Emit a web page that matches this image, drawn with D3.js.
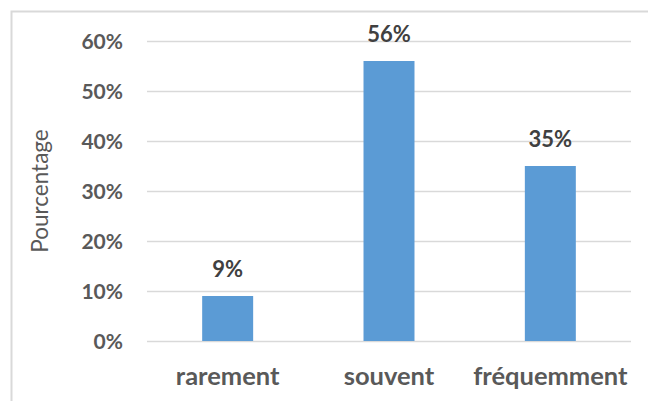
<!DOCTYPE html>
<html>
<head>
<meta charset="utf-8">
<script src="https://cdn.jsdelivr.net/npm/d3@7"></script>
<style>
  html, body { margin: 0; padding: 0; background: #fff; }
  svg { display: block; }
</style>
</head>
<body>
<svg id="chart" width="648" height="401"></svg>
<script>
// Fréquence déclarée, en pourcentage des réponses
const categories = ["rarement", "souvent", "fréquemment"];
const values = [0.09, 0.56, 0.35];
const valueLabels = ["9%", "56%", "35%"];
const yTicks = [0, 0.1, 0.2, 0.3, 0.4, 0.5, 0.6];
const yTickLabels = ["0%", "10%", "20%", "30%", "40%", "50%", "60%"];
const yTitle = "Pourcentage";

const svg = d3.select("#chart");
const plot = { left: 147, right: 631, top: 41, bottom: 341 };

// Chart frame (extends past the visible window on the right and bottom)
svg.append("rect")
  .attr("x", 11.5).attr("y", 11.5)
  .attr("width", 700).attr("height", 500)
  .attr("fill", "#fff")
  .attr("stroke", "#d9d9d9")
  .attr("stroke-width", 2);

const x = d3.scaleBand()
  .domain(categories)
  .range([plot.left, plot.right])
  .paddingInner(0.684)
  .paddingOuter(0.342);

const y = d3.scaleLinear()
  .domain([0, 0.6])
  .range([plot.bottom, plot.top]);

// Horizontal gridlines
svg.append("g")
  .selectAll("line")
  .data(yTicks)
  .join("line")
  .attr("x1", plot.left).attr("x2", plot.right)
  .attr("y1", d => Math.round(y(d)) + 0.5)
  .attr("y2", d => Math.round(y(d)) + 0.5)
  .attr("stroke", "#d9d9d9")
  .attr("stroke-width", 1.3);

// Y axis labels
const yAxis = d3.axisLeft(y)
  .tickValues(yTicks)
  .tickFormat((d, i) => yTickLabels[i])
  .tickSize(0)
  .tickPadding(0);

const yg = svg.append("g")
  .attr("transform", `translate(${plot.left - 24},0)`)
  .call(yAxis);
yg.select(".domain").remove();
yg.selectAll("text")
  .attr("font-family", "Lato, 'Open Sans', sans-serif")
  .attr("font-weight", "bold")
  .attr("font-size", 21)
  .attr("fill", "#595959")
  .attr("dy", "0.36em");

// Bars
svg.append("g")
  .selectAll("rect")
  .data(values)
  .join("rect")
  .attr("x", (d, i) => x(categories[i]))
  .attr("y", d => y(d))
  .attr("width", x.bandwidth())
  .attr("height", d => y(0) - y(d))
  .attr("fill", "#5b9bd5");

// Value labels above bars
svg.append("g")
  .selectAll("text")
  .data(values)
  .join("text")
  .attr("x", (d, i) => x(categories[i]) + x.bandwidth() / 2)
  .attr("y", d => y(d) - 19)
  .attr("text-anchor", "middle")
  .attr("font-family", "Lato, 'Open Sans', sans-serif")
  .attr("font-weight", "bold")
  .attr("font-size", 22)
  .attr("fill", "#404040")
  .text((d, i) => valueLabels[i]);

// Category axis labels
const xAxis = d3.axisBottom(x).tickSize(0).tickPadding(0);
const xg = svg.append("g")
  .attr("transform", `translate(0,${plot.bottom})`)
  .call(xAxis);
xg.select(".domain").remove();
xg.selectAll("text")
  .attr("font-family", "Lato, 'Open Sans', sans-serif")
  .attr("font-weight", "bold")
  .attr("font-size", 25.5)
  .attr("fill", "#595959")
  .attr("dy", null)
  .attr("y", 44);

// Y axis title
svg.append("text")
  .attr("transform", `translate(48,${(plot.top + plot.bottom) / 2}) rotate(-90)`)
  .attr("text-anchor", "middle")
  .attr("font-family", "Lato, 'Open Sans', sans-serif")
  .attr("font-size", 22.5)
  .attr("fill", "#595959")
  .text(yTitle);
</script>
</body>
</html>
